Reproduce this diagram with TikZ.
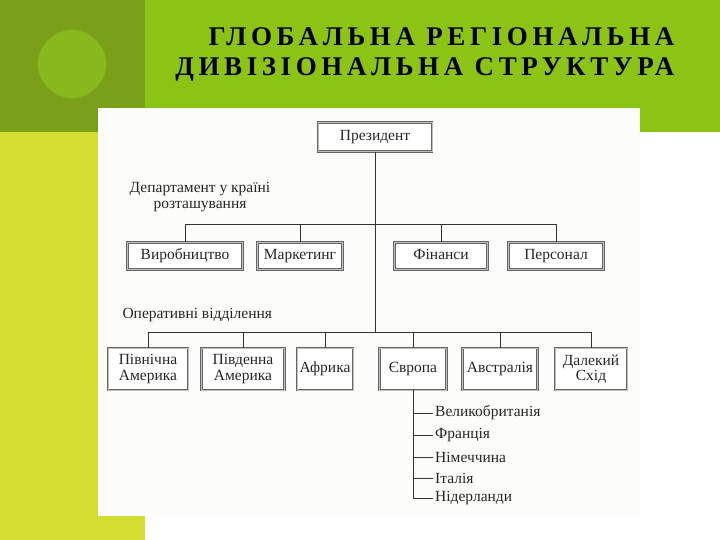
\documentclass[tikz,border=0pt]{standalone}
\usepackage{fontspec}
\setmainfont{Liberation Serif}
\newfontfamily\titlefont[LetterSpace=17]{Liberation Serif}
\usetikzlibrary{positioning}

\definecolor{oliveblock}{HTML}{7AA01A}
\definecolor{olivedot}{HTML}{89B71E}
\definecolor{greenband}{HTML}{8CC416}
\definecolor{limebar}{HTML}{D4DE32}
\definecolor{scanpaper}{HTML}{FCFCFA}

\begin{document}
\begin{tikzpicture}[x=1pt, y=-1pt,
        boxbase/.style={draw=black!60, line width=0.8pt, double=black!25, double distance=0.7pt,
                     fill=white, inner sep=1pt,
                     font=\fontsize{15.5}{15.5}\selectfont, text=black!85, align=center},
        unit/.style={boxbase, minimum height=27pt, text height=10.5pt, text depth=3.5pt},
        region/.style={boxbase, minimum height=42pt},
        link/.style={draw=black!80, line width=0.8pt},
        caption/.style={font=\fontsize{15.5}{16}\selectfont, text=black!85, align=center},
        country/.style={caption, anchor=west, inner sep=0pt}
    ]
    \useasboundingbox (0,0) rectangle (720,540);

    % ---- SLIDE BACKGROUND ----
    \fill[limebar] (0,132) rectangle (145,540);
    \fill[greenband] (145,0) rectangle (720,132);
    \fill[oliveblock] (0,0) rectangle (145,132);
    \fill[olivedot] (72,64) circle (34);
    \fill[scanpaper] (98,108) rectangle (640,516);

    % ---- TITLE ----
    \node[anchor=east, font=\titlefont\bfseries\fontsize{27}{27}\selectfont] (t1) at (678,37) {ГЛОБАЛЬНА РЕГІОНАЛЬНА};
    \node[anchor=east, font=\titlefont\bfseries\fontsize{27}{27}\selectfont] (t2) at (678,69) {ДИВІЗІОНАЛЬНА СТРУКТУРА};

    % ---- TOP ----
    \node[unit, minimum width=114pt, minimum height=29pt] (pres) at (375,137) {Президент};
    \coordinate (bus1) at (375,224);
    \coordinate (bus2) at (375,332);

    % ---- DEPARTMENTS ----
    \node[caption] (dept) at (200,197) {Департамент у країні\\розташування};
    \node[unit, minimum width=115pt] (vyr) at (185,256) {Виробництво};
    \node[unit, minimum width=85pt] (mark) at (300,256) {Маркетинг};
    \node[unit, minimum width=93pt] (fin) at (441,256) {Фінанси};
    \node[unit, minimum width=95pt] (pers) at (556,256) {Персонал};

    \draw[link] (vyr.north |- bus1) -- (pers.north |- bus1);
    \foreach \d in {vyr, mark, fin, pers}
        \draw[link] (\d.north) -- (\d.north |- bus1);

    % ---- REGIONS ----
    \node[caption, anchor=west] (ops) at (119,315) {Оперативні відділення};
    \node[region, minimum width=80pt] (namer) at (148,369) {Північна\\Америка};
    \node[region, minimum width=83pt] (samer) at (243,369) {Південна\\Америка};
    \node[region, minimum width=56pt] (afr) at (325,369) {Африка};
    \node[region, minimum width=67pt] (evr) at (413,369) {Європа};
    \node[region, minimum width=75pt] (austr) at (500,369) {Австралія};
    \node[region, minimum width=72pt] (east) at (591,369) {Далекий\\Схід};

    \draw[link] (pres.south) -- (bus2);
    \draw[link] (namer.north |- bus2) -- (east.north |- bus2);
    \foreach \r in {namer, samer, afr, evr, austr, east}
        \draw[link] (\r.north) -- (\r.north |- bus2);

    % ---- EUROPE ----
    \node[country] (uk) at (435,413) {Великобританія};
    \node[country] (fr) at (435,435) {Франція};
    \node[country] (de) at (435,457) {Німеччина};
    \node[country] (it) at (435,478) {Італія};
    \node[country] (nl) at (435,498) {Нідерланди};

    \foreach \c in {uk, fr, de, it, nl}
        \draw[link] (evr.south) |- ([xshift=-2pt]\c.west);

\end{tikzpicture}
\end{document}
